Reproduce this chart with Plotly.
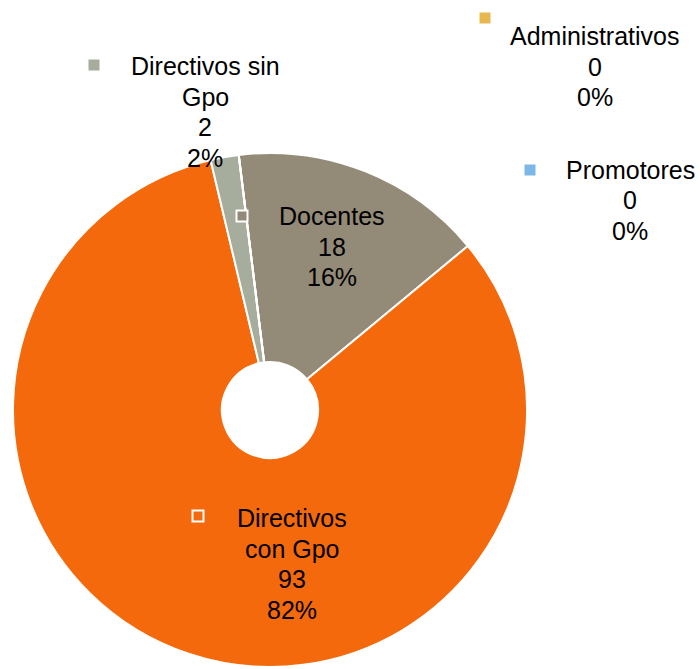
import plotly.graph_objects as go

labels = ["Docentes", "Directivos con Gpo", "Directivos sin Gpo", "Administrativos", "Promotores"]
label_lines = [["Docentes"], ["Directivos", "con Gpo"], ["Directivos sin", "Gpo"], ["Administrativos"], ["Promotores"]]
values = [18, 93, 2, 0, 0]
colors = ["#948A78", "#F3690C", "#A7AD9C", "#E6B84E", "#7DB7E8"]

W, H = 700, 669
total = sum(values)
pcts = [round(v / total * 100) for v in values]

def px(x):
    return x / W

def py(y):
    return 1 - y / H

fig = go.Figure()
fig.add_trace(go.Pie(
    labels=labels, values=values, sort=False, direction="clockwise",
    rotation=-7, hole=0.187, textinfo="none", hoverinfo="label+value+percent",
    marker=dict(colors=colors, line=dict(color="white", width=2)),
    domain=dict(x=[px(13), px(527)], y=[py(667), py(153)]),
    showlegend=False,
))

# label block positions (center x, first line center y) and key squares (x, y) in pixels
label_pos = [(332, 216), (292, 518), (205, 66), (595, 36), (630, 170)]
key_pos = [(242, 216), (198, 516), (94, 65), (485, 18), (530, 170)]
key_inside = [True, True, False, False, False]
line_gap = 30.5

font = dict(family="Liberation Sans, Arial, sans-serif", size=25, color="black")
shapes = []
for i, lab in enumerate(label_lines):
    lines = lab + [str(values[i]), f"{pcts[i]}%"]
    cx, ty = label_pos[i]
    for j, ln in enumerate(lines):
        fig.add_annotation(x=px(cx), y=py(ty + j * line_gap), xref="paper", yref="paper",
                           text=ln, showarrow=False, xanchor="center", yanchor="middle",
                           font=font, align="center")
    kx, ky = key_pos[i]
    s = 5.5
    shapes.append(dict(type="rect", xref="paper", yref="paper",
                       x0=px(kx - s), x1=px(kx + s), y0=py(ky + s), y1=py(ky - s),
                       fillcolor=colors[i],
                       line=dict(color="white" if key_inside[i] else colors[i], width=2 if key_inside[i] else 0)))

fig.update_layout(width=W, height=H, margin=dict(l=0, r=0, t=0, b=0),
                  paper_bgcolor="white", plot_bgcolor="white", shapes=shapes)
fig.write_html("out.html", config={"displayModeBar": False},
               post_script="document.body.style.margin='0';document.body.style.overflow='hidden';")
